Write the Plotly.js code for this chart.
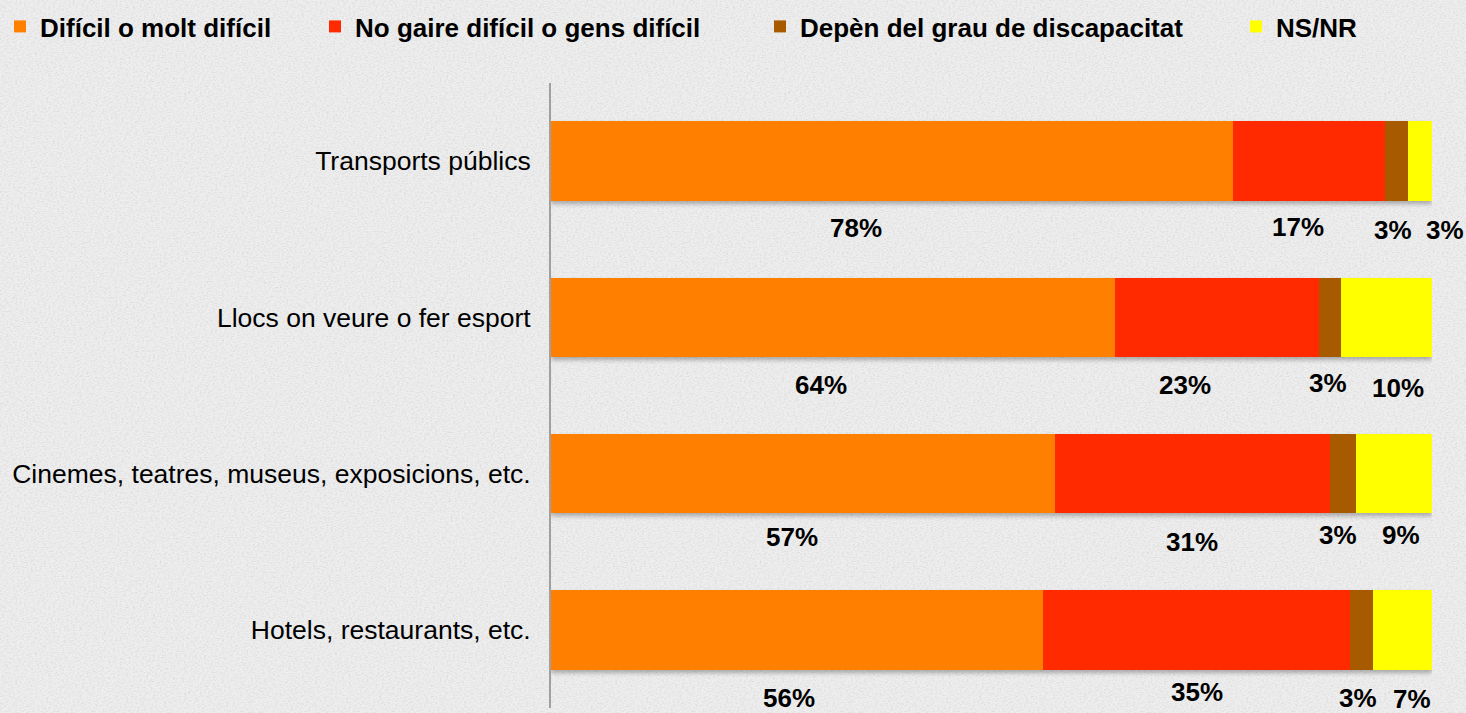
<!DOCTYPE html>
<html>
<head>
<meta charset="utf-8">
<script src="https://cdn.plot.ly/plotly-3.0.1.min.js"></script>
<style>
  html, body { margin: 0; padding: 0; background-color: #eeeeee; }
  body {
    background-image: url("data:image/svg+xml;utf8,<svg xmlns='http://www.w3.org/2000/svg' width='300' height='300'><filter id='n'><feTurbulence type='fractalNoise' baseFrequency='0.45 0.8' numOctaves='3' seed='4'/><feColorMatrix values='0 0 0 0 0.5  0 0 0 0 0.5  0 0 0 0 0.5  0 0 0 0.8 -0.33'/></filter><rect width='300' height='300' filter='url(%23n)'/></svg>");
  }
  #chart { width: 1466px; height: 713px; }
  #chart g.barlayer { filter: drop-shadow(0px 3px 2px rgba(0,0,0,0.28)); }
</style>
</head>
<body>
<div id="chart"></div>
<script>
// ---- Data ----
const categories = [
  'Transports públics',
  'Llocs on veure o fer esport',
  'Cinemes, teatres, museus, exposicions, etc.',
  'Hotels, restaurants, etc.'
];
const seriesNames = [
  'Difícil o molt difícil',
  'No gaire difícil o gens difícil',
  'Depèn del grau de discapacitat',
  'NS/NR'
];
const dificil = [77.6, 64.2, 57.2, 55.8];
const noGaire = [17.3, 23.1, 31.2, 34.8];
const depen   = [2.6, 2.6, 3.0, 2.6];
const nsnr    = [2.7, 10.3, 8.6, 6.7];

// ---- Styling (not data) ----
const colors = ['#ff7f00', '#ff2a00', '#a85a00', '#ffff00'];
const FONT = 'Liberation Sans, Arial, Helvetica, sans-serif';
// label nudges in pixels [series][category] : dx, and dy below the category centre
const labelDx = [
  [-36, -12, -11, -8],
  [-11, -32, 0, 0],
  [-4, -2, -5, -3],
  [25, 11, 7, 10]
];
const labelDy = [
  [67, 68, 63, 68],
  [66, 68, 68, 62],
  [69, 66, 61, 68],
  [69, 71, 61, 69]
];
const legendTextX = [37, 355, 800, 1276];

const series = [dificil, noGaire, depen, nsnr];
const legendIds = ['legend', 'legend2', 'legend3', 'legend4'];

const traces = series.map((vals, i) => ({
  type: 'bar',
  orientation: 'h',
  name: seriesNames[i],
  y: categories,
  x: vals,
  marker: { color: colors[i], line: { width: 0 } },
  legend: legendIds[i],
  hoverinfo: 'name+x'
}));

// value labels computed from the data
const totals = categories.map((_, c) => series.reduce((s, arr) => s + arr[c], 0));
const annotations = [];
categories.forEach((cat, c) => {
  let cum = 0;
  series.forEach((arr, i) => {
    const v = arr[c];
    const mid = (cum + v / 2) / totals[c] * 100;
    cum += v;
    annotations.push({
      x: mid, y: cat, xref: 'x', yref: 'y',
      text: '<b>' + Math.round(v) + '%</b>',
      showarrow: false,
      xshift: labelDx[i][c],
      yshift: -labelDy[i][c],
      font: { family: FONT, size: 26, color: '#000' }
    });
  });
});

const layout = {
  width: 1466, height: 713,
  paper_bgcolor: 'rgba(0,0,0,0)',
  plot_bgcolor: 'rgba(0,0,0,0)',
  margin: { l: 551, r: 34, t: 83, b: 5, autoexpand: false },
  barmode: 'stack',
  barnorm: 'percent',
  bargap: 0.49,
  xaxis: { range: [0, 100], visible: false, fixedrange: true },
  yaxis: {
    type: 'category',
    categoryorder: 'array',
    categoryarray: categories,
    range: [categories.length - 0.5, -0.5],
    showline: true, linecolor: '#a0a0a0', linewidth: 2,
    showgrid: false, zeroline: false,
    ticks: '', ticklabelstandoff: 13,
    tickfont: { family: FONT, size: 26.5, color: '#000' },
    fixedrange: true
  },
  annotations: annotations,
  showlegend: true
};
legendIds.forEach((id, i) => {
  layout[id] = {
    xref: 'container', yref: 'container',
    x: (legendTextX[i] - 40) / 1466, y: 1 - 3 / 713,
    xanchor: 'left', yanchor: 'top',
    orientation: 'h',
    bgcolor: 'rgba(0,0,0,0)',
    font: { family: FONT, size: 26, color: '#000', weight: 'bold' }
  };
});

Plotly.newPlot('chart', traces, layout, { displayModeBar: false, staticPlot: true });
</script>
</body>
</html>
